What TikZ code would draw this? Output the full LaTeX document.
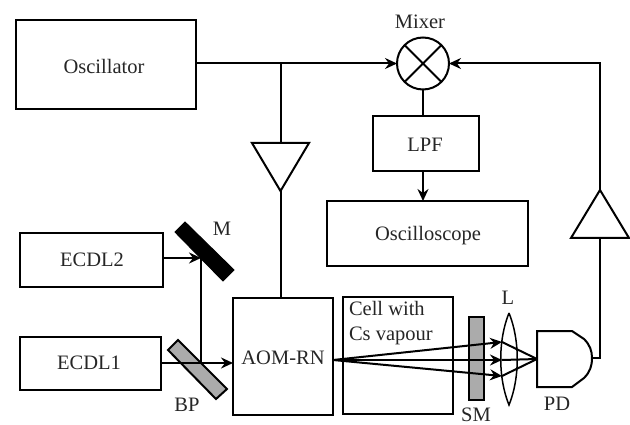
\documentclass[tikz,border=0pt]{standalone}
\usepackage{fontspec}
\setmainfont{Liberation Serif}
\usetikzlibrary{arrows.meta,calc}
\tikzset{
  x=1pt,y=-1pt,
  every node/.style={font=\fontsize{20.5}{24}\selectfont,inner sep=0pt,outer sep=0pt},
  wire/.style={line width=2pt,line join=miter},
  arr/.style={wire,-{Stealth[length=12pt,width=11pt,inset=4pt]}},
  blockbox/.style={draw,line width=2pt,anchor=north west},
  lbl/.style={text=black!85},
}
\begin{document}
\begin{tikzpicture}
\useasboundingbox (0,0) rectangle (630,425);
% boxes
\node[blockbox,minimum width=180pt,minimum height=89pt] (osc) at (16,20) {};
\node[lbl] (osct) at (104,66) {Oscillator};
\node[blockbox,minimum width=143pt,minimum height=54pt] (e2) at (20,233) {};
\node[lbl] (e2t) at (92,260) {ECDL2};
\node[blockbox,minimum width=140.5pt,minimum height=53pt] (e1) at (20,337) {};
\node[lbl] (e1t) at (89,363) {ECDL1};
\node[blockbox,minimum width=100pt,minimum height=117pt] (aom) at (233,298) {};
\node[lbl] (aomt) at (283,358) {AOM-RN};
\node[blockbox,minimum width=110pt,minimum height=117pt] (cell) at (343,297) {};
\node[lbl,align=left,anchor=north west,font=\fontsize{20.5}{25}\selectfont] (cellt) at (349,301) {Cell with\\Cs vapour};
\node[blockbox,minimum width=106pt,minimum height=55pt] (lpf) at (373,116) {};
\node[lbl] (lpft) at (425,145) {LPF};
\node[blockbox,minimum width=201pt,minimum height=65pt] (scope) at (327,201) {};
\node[lbl] (scopet) at (428,236) {Oscilloscope};
% mixer
\node[draw,circle,line width=2pt,minimum size=52pt] (mix) at (423,63.5) {};
\draw[wire] (mix.45) -- (mix.225) (mix.135) -- (mix.315);
\node[lbl] (mixt) at (420,22) {Mixer};
% coordinates
\coordinate (ma) at (201,258);
\coordinate (bs) at (201,363);
\coordinate (tap) at (280.5,63.5);
\coordinate (t1a) at (280.5,191);
\coordinate (t1l) at (252,143);
\coordinate (t1r) at (309,143);
\coordinate (t1t) at (280.5,143);
\coordinate (aomtop) at (280.5,298);
\coordinate (corner) at (600,63.5);
\coordinate (t2a) at (600,190);
\coordinate (t2l) at (571,238);
\coordinate (t2r) at (629,238);
\coordinate (t2b) at (600,238);
\coordinate (pdo) at (592,358);
\coordinate (pdc) at (600,358);
\coordinate (src) at (333,360);
\coordinate (lt) at (502,342);
\coordinate (lm) at (502,360);
\coordinate (lb) at (502,376);
\coordinate (foc) at (537,359);
% optics
\draw[fill=black,line width=1pt] (175,232) -- (185,222) -- (234,270) -- (223,281) -- cycle;
\node[lbl] (mt) at (222,229) {M};
\draw[fill=black!33,line width=2pt] (168,350) -- (178,340) -- (227,389) -- (216,399) -- cycle;
\node[lbl] (bpt) at (187,405) {BP};
\draw[fill=black!33,line width=2pt] (469,317) rectangle (484,400);
\node[lbl] (smt) at (476,415) {SM};
\draw[line width=1.5pt] (509,313) .. controls (498,340) and (498,378) .. (509,405) .. controls (520,378) and (520,340) .. (509,313);
\node[lbl] (lt2) at (508,298) {L};
% detector
\draw[line width=2pt] (537,331) -- (572,331) -- (584,339) .. controls (590,345) and (592,351) .. (592,358) .. controls (592,366) and (590,372) .. (584,378) -- (572,387) -- (537,387) -- cycle;
\node[lbl] (pdt) at (557,404) {PD};
% amplifiers
\draw[wire] (t1l) -- (t1r) -- (t1a) -- cycle;
\draw[wire] (t2l) -- (t2r) -- (t2a) -- cycle;
% connectors
\draw[arr] (osc.east |- tap) -- (mix.west);
\draw[wire] (tap) -- (t1t);
\draw[wire] (t1a) -- (aomtop);
\draw[arr] (t2a) -- (corner) -- (mix.east);
\draw[wire] (t2b) -- (pdc) -- (pdo);
\draw[wire] (mix.south) -- (mix.south |- lpf.north);
\draw[arr] (mix.south |- lpf.south) -- (mix.south |- scope.north);
\draw[arr] (e2.east |- ma) -- (ma);
\draw[arr] (e1.east |- bs) -- (aom.west |- bs);
\draw[wire] (ma) -- (bs);
\draw[arr] (src) -- (lt);
\draw[arr] (src) -- (lm);
\draw[arr] (src) -- (lb);
\draw[wire] (lt) -- (foc);
\draw[wire] (lm) -- (foc);
\draw[wire] (lb) -- (foc);
\end{tikzpicture}
\end{document}
